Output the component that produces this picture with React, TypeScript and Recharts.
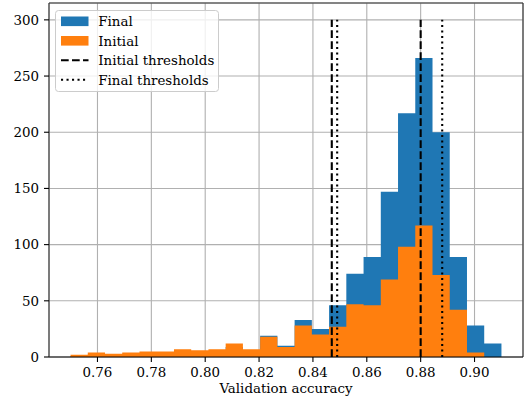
import React from 'react';
import {
  ComposedChart,
  Area,
  XAxis,
  YAxis,
  CartesianGrid,
  ReferenceLine,
  Label,
} from 'recharts';

// histogram bin edges (25 bins, shared by both series)
const binEdges = [
  0.75, 0.7564, 0.7628, 0.7692, 0.7756, 0.782, 0.7884, 0.7948, 0.8012, 0.8076,
  0.814, 0.8204, 0.8268, 0.8332, 0.8396, 0.846, 0.8524, 0.8588, 0.8652, 0.8716,
  0.878, 0.8844, 0.8908, 0.8972, 0.9036, 0.91,
];

const finalCounts = [
  1, 2, 2, 3, 3, 4, 5, 4, 5, 9, 6, 19, 10, 33, 25, 46, 74, 89, 147, 217, 266, 200, 89, 28, 12,
];
const initialCounts = [
  2, 4, 3, 4, 5, 5, 7, 6, 7, 12, 7, 18, 9, 28, 20, 27, 47, 46, 69, 98, 117, 73, 42, 4, 0,
];

const initialThresholds = [0.847, 0.88];
const finalThresholds = [0.849, 0.888];
const thresholdTop = 300;

const xTicks = [0.76, 0.78, 0.8, 0.82, 0.84, 0.86, 0.88, 0.9];
const yTicks = [0, 50, 100, 150, 200, 250, 300];

const BLUE = '#1f77b4';
const ORANGE = '#ff7f0e';
const FONT = '"DejaVu Serif", serif';
const FS = 13.4;

// step-after table: one point per bin edge, last edge closes the bar at 0
const data = binEdges.map((x, i) => ({
  x,
  final: i < finalCounts.length ? finalCounts[i] : 0,
  initial: i < initialCounts.length ? initialCounts[i] : 0,
}));

const legendRows = [
  { label: 'Final', kind: 'patch', color: BLUE },
  { label: 'Initial', kind: 'patch', color: ORANGE },
  { label: 'Initial thresholds', kind: 'line', dash: '7.7 3.3' },
  { label: 'Final thresholds', kind: 'line', dash: '2.1 3.4' },
];

const LegendBox = () => (
  <svg
    width={165}
    height={83}
    style={{ position: 'absolute', left: 55, top: 10, overflow: 'visible' }}
  >
    <rect x={0.5} y={0.5} width={163} height={81} rx={3} fill="#fff" fillOpacity={0.8} stroke="#cccccc" />
    {legendRows.map((r, i) => {
      const cy = 11.3 + i * 19.5;
      return (
        <g key={r.label}>
          {r.kind === 'patch' ? (
            <rect x={6} y={cy - 4.8} width={27.5} height={9.6} fill={r.color} />
          ) : (
            <line x1={6} x2={33.5} y1={cy} y2={cy} stroke="#000" strokeWidth={2.1} strokeDasharray={r.dash} />
          )}
          <text x={43.3} y={cy + 5} fontFamily={FONT} fontSize={FS} fill="#000">
            {r.label}
          </text>
        </g>
      );
    })}
  </svg>
);

const App: React.FC = () => {
  const tickStyle = { fontFamily: FONT, fontSize: FS, fill: '#000' };
  return (
    <div style={{ position: 'absolute', left: 0, top: 0, width: 526, height: 401, background: '#fff' }}>
      <ComposedChart width={526} height={401} data={data} margin={{ top: 3, right: 3, bottom: 0, left: 0 }}>
        <XAxis
          type="number"
          dataKey="x"
          domain={[0.742, 0.918]}
          ticks={xTicks}
          allowDataOverflow
          height={44}
          tickSize={5}
          tickMargin={5}
          tick={tickStyle}
          tickLine={{ stroke: '#000', strokeWidth: 1.1 }}
          axisLine={{ stroke: '#000', strokeWidth: 1.1 }}
          tickFormatter={(v: number) => v.toFixed(2)}
        >
          <Label
            value="Validation accuracy"
            position="insideBottom"
            offset={8}
            style={{ fontFamily: FONT, fontSize: FS, fill: '#000' }}
          />
        </XAxis>
        <YAxis
          type="number"
          domain={[0, 315]}
          ticks={yTicks}
          allowDataOverflow
          width={49}
          tickSize={5}
          tickMargin={5}
          tick={tickStyle}
          tickLine={{ stroke: '#000', strokeWidth: 1.1 }}
          axisLine={{ stroke: '#333', strokeWidth: 1.1 }}
        />
        <Area
          type="stepAfter"
          dataKey="final"
          stroke="none"
          fill={BLUE}
          fillOpacity={1}
          dot={false}
          activeDot={false}
          isAnimationActive={false}
        />
        <Area
          type="stepAfter"
          dataKey="initial"
          stroke="none"
          fill={ORANGE}
          fillOpacity={1}
          dot={false}
          activeDot={false}
          isAnimationActive={false}
        />
        <CartesianGrid stroke="#b0b0b0" strokeWidth={1.1} />
        <ReferenceLine y={315} stroke="#333" strokeWidth={1.1} />
        <ReferenceLine x={0.918} stroke="#333" strokeWidth={1.1} />
        {initialThresholds.map((t) => (
          <ReferenceLine
            key={'i' + t}
            segment={[{ x: t, y: 0 }, { x: t, y: thresholdTop }]}
            stroke="#000"
            strokeWidth={2.1}
            strokeDasharray="7.7 3.3"
          />
        ))}
        {finalThresholds.map((t) => (
          <ReferenceLine
            key={'f' + t}
            segment={[{ x: t, y: 0 }, { x: t, y: thresholdTop }]}
            stroke="#000"
            strokeWidth={2.1}
            strokeDasharray="2.1 3.4"
          />
        ))}
      </ComposedChart>
      <LegendBox />
    </div>
  );
};

export default App;
